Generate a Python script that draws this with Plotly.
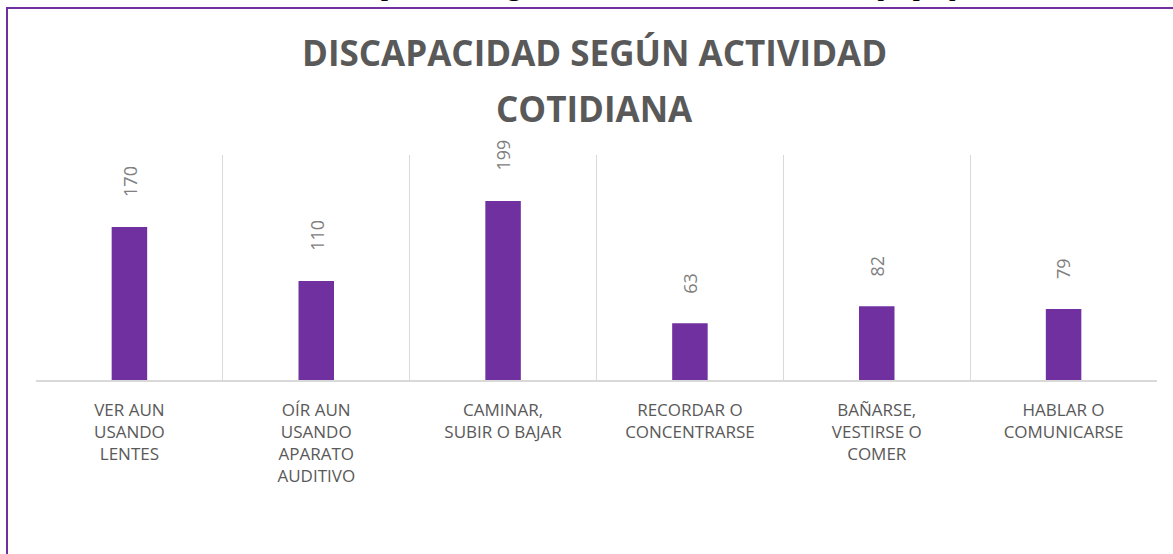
import plotly.graph_objects as go

categories = [
    "VER AUN<br>USANDO<br>LENTES",
    "OÍR AUN<br>USANDO<br>APARATO<br>AUDITIVO",
    "CAMINAR,<br>SUBIR O BAJAR",
    "RECORDAR O<br>CONCENTRARSE",
    "BAÑARSE,<br>VESTIRSE O<br>COMER",
    "HABLAR O<br>COMUNICARSE",
]
values = [170, 110, 199, 63, 82, 79]

title_line1 = "DISCAPACIDAD SEGÚN ACTIVIDAD"
title_line2 = "COTIDIANA"
caption = "Gráfico: Discapacidad según actividad cotidiana en Tlaquepaque."

W, H = 1173, 554
L, R, T, B = 36, 16, 155, 174
pw, ph = W - L - R, H - T - B

def px_x(x):
    return (x - L) / pw

def px_y(y):
    return (H - B - y) / ph

purple = "#7030A0"

fig = go.Figure(
    go.Bar(
        x=categories,
        y=values,
        width=0.19,
        marker=dict(color=purple, line=dict(width=0)),
        hoverinfo="x+y",
    )
)

for c, v in zip(categories, values):
    fig.add_annotation(
        x=c, y=v, xref="x", yref="y",
        text=str(v), textangle=-90, showarrow=False,
        yanchor="bottom", yshift=28,
        font=dict(family="Open Sans", size=18, color="#808080"),
    )

fig.add_annotation(
    x=px_x(594), y=px_y(53), xref="paper", yref="paper",
    text=f"<b>{title_line1}</b>", showarrow=False,
    xanchor="center", yanchor="middle",
    font=dict(family="Open Sans", size=35, color="#595959"),
)
fig.add_annotation(
    x=px_x(594), y=px_y(108), xref="paper", yref="paper",
    text=f"<b>{title_line2}</b>", showarrow=False,
    xanchor="center", yanchor="middle",
    font=dict(family="Open Sans", size=35, color="#595959"),
)
fig.add_annotation(
    x=px_x(598), y=px_y(3), xref="paper", yref="paper",
    text=caption, showarrow=False,
    xanchor="center", yanchor="bottom",
    font=dict(family="Liberation Serif", size=30, color="#000000"),
)

fig.add_shape(
    type="rect", xref="paper", yref="paper",
    x0=px_x(7), x1=px_x(1200), y0=px_y(580), y1=px_y(8),
    line=dict(color=purple, width=2), fillcolor="rgba(0,0,0,0)",
)

fig.update_layout(
    width=W, height=H,
    margin=dict(l=L, r=R, t=T, b=B),
    paper_bgcolor="white", plot_bgcolor="white",
    showlegend=False,
    xaxis=dict(
        tickson="boundaries", showgrid=True, gridcolor="#d9d9d9", gridwidth=1,
        showline=True, linecolor="#d9d9d9", linewidth=1.5,
        ticks="", ticklabelstandoff=14,
        tickfont=dict(family="Open Sans", size=17, color="#595959"),
        range=[-0.5, 5.5], zeroline=False,
    ),
    yaxis=dict(visible=False, range=[0, 250], showgrid=False, zeroline=False),
)

fig.write_html(
    "out.html",
    config={"displayModeBar": False},
    post_script="document.body.style.margin='0';document.body.style.overflow='hidden';",
)
